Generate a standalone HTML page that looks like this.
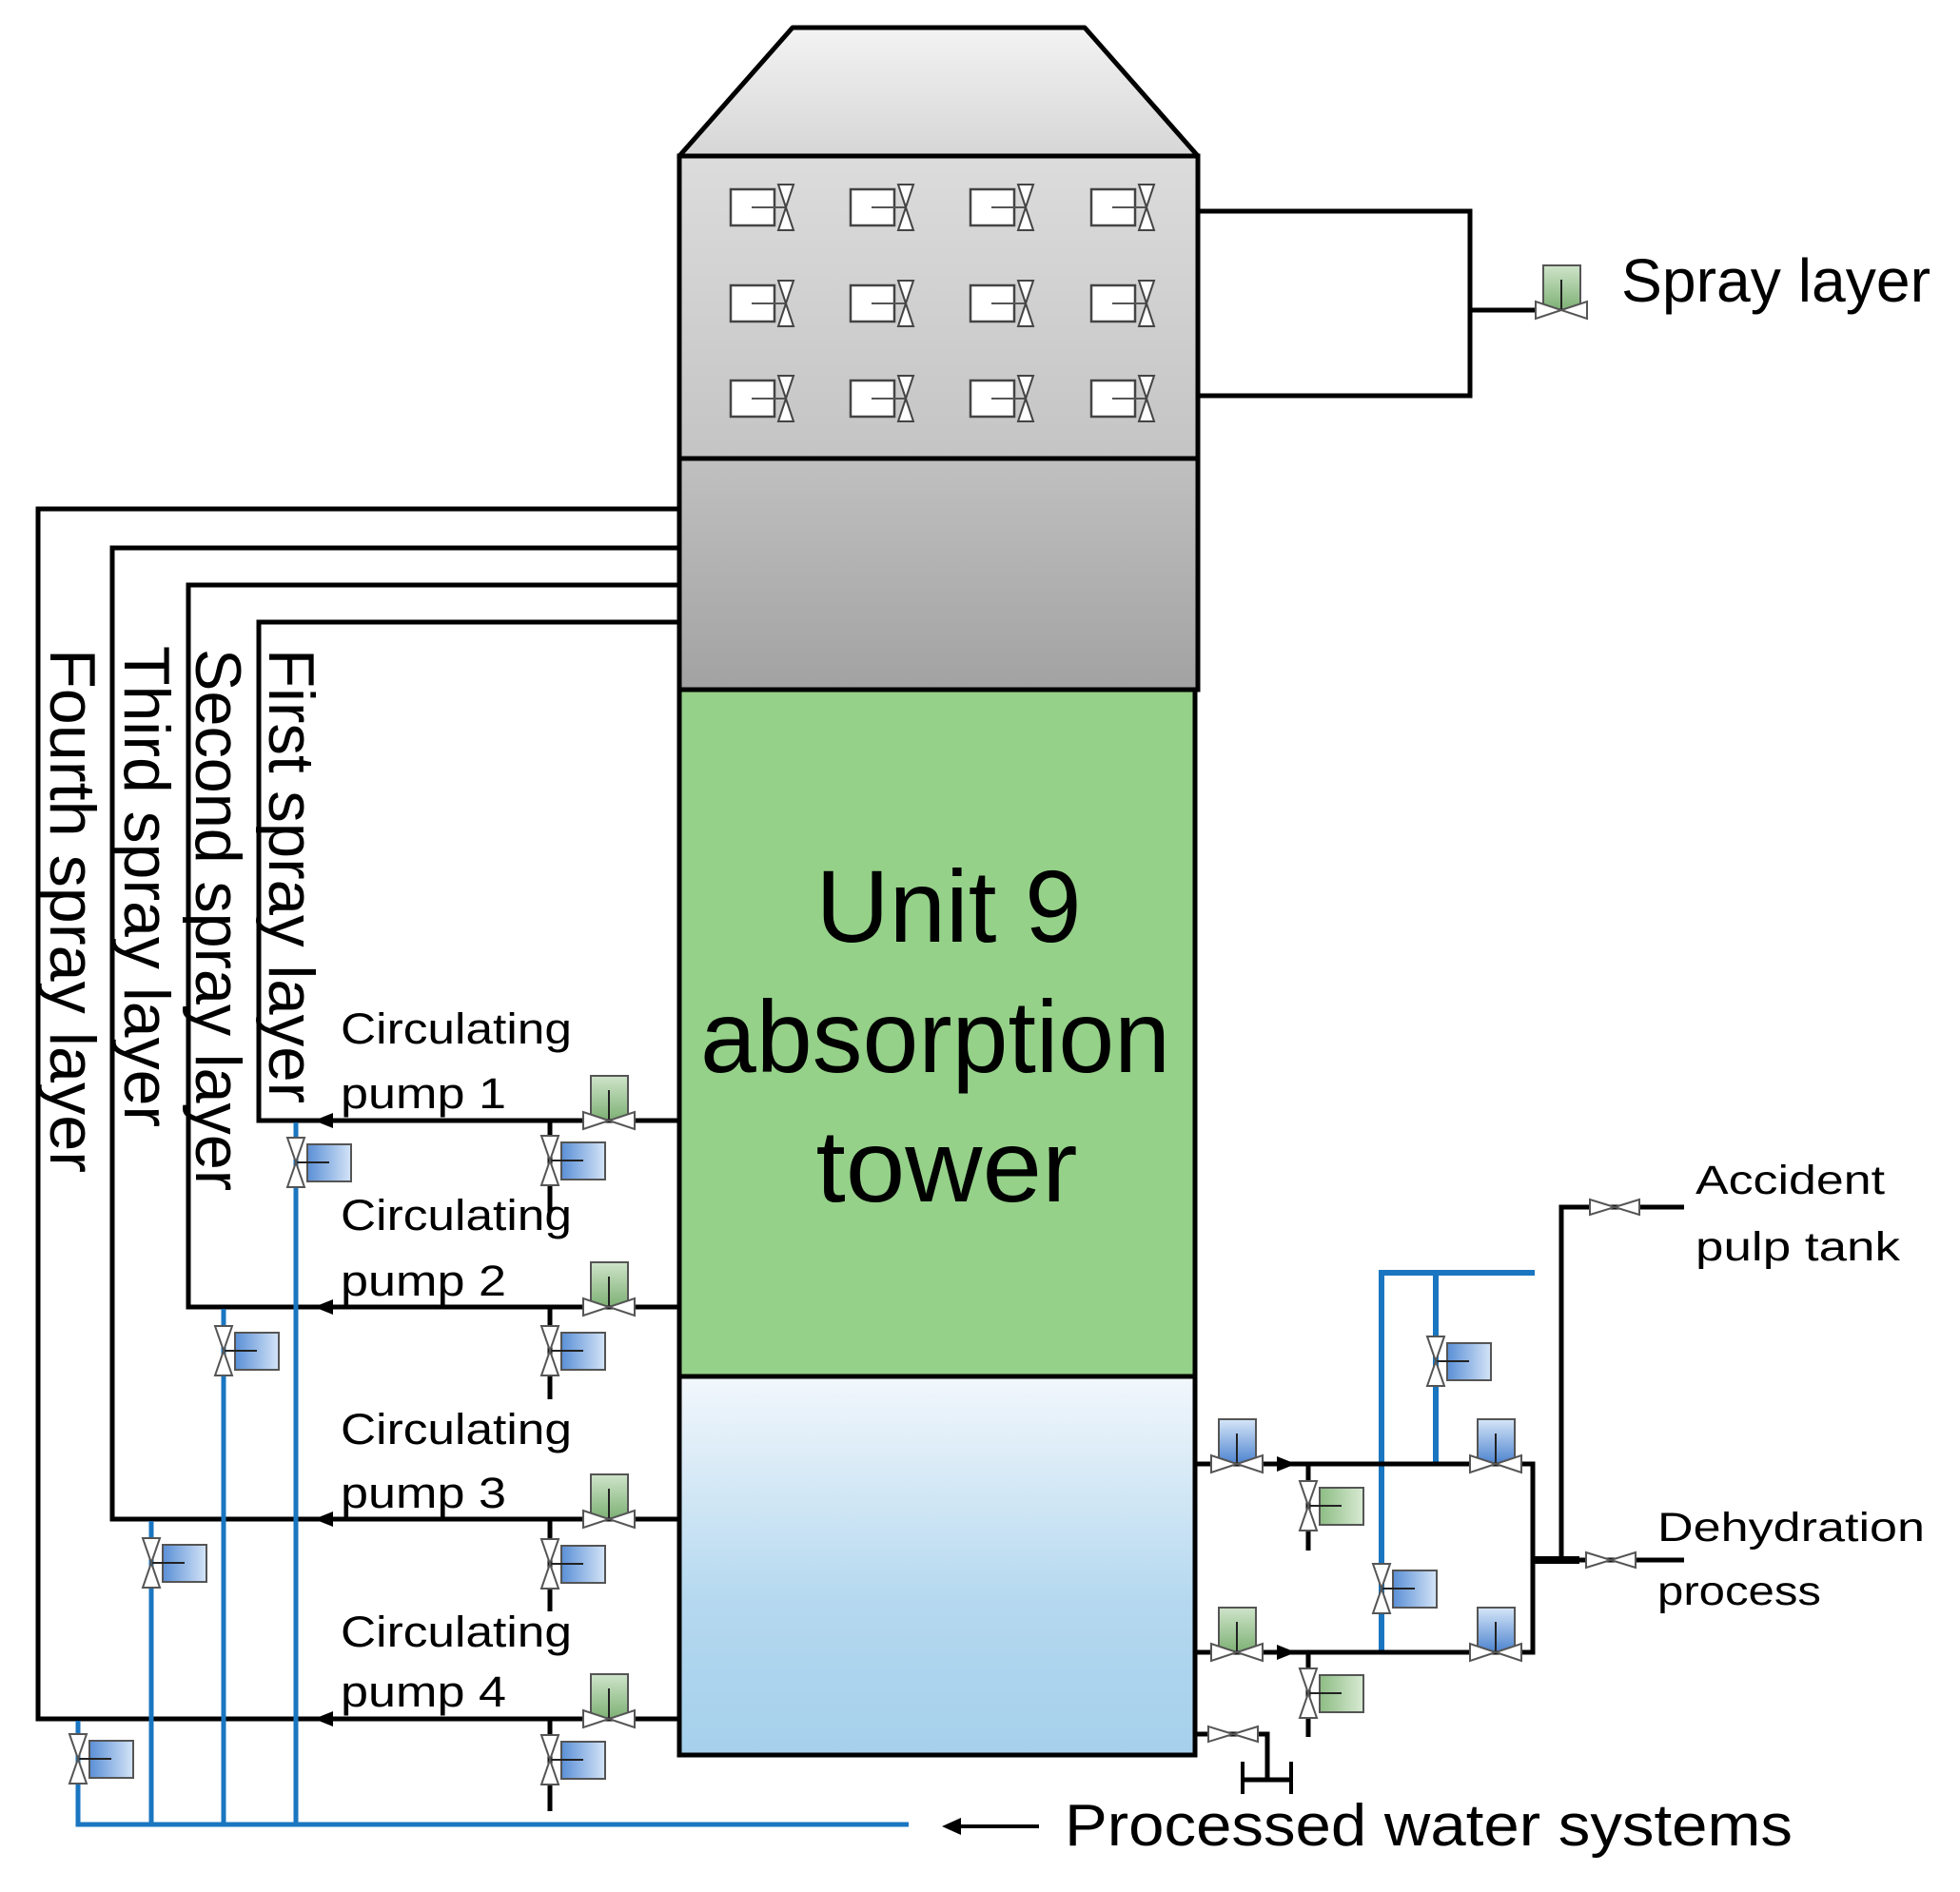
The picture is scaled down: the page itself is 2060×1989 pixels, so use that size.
<!DOCTYPE html>
<html><head><meta charset="utf-8"><style>
html,body{margin:0;padding:0;background:#fff}
svg{display:block}
text{font-family:"Liberation Sans",sans-serif;fill:#000}
</style></head><body>
<svg width="2060" height="1989" viewBox="0 0 2060 1989" xmlns="http://www.w3.org/2000/svg">
<defs>
<linearGradient id="roof" x1="0" y1="0" x2="0" y2="1"><stop offset="0" stop-color="#f3f3f3"/><stop offset="1" stop-color="#d6d6d6"/></linearGradient>
<linearGradient id="sec1" x1="0" y1="0" x2="0" y2="1"><stop offset="0" stop-color="#dcdcdc"/><stop offset="1" stop-color="#c4c4c4"/></linearGradient>
<linearGradient id="sec2" x1="0" y1="0" x2="0" y2="1"><stop offset="0" stop-color="#c0c0c0"/><stop offset="1" stop-color="#a2a2a2"/></linearGradient>
<linearGradient id="water" x1="0" y1="0" x2="0" y2="1"><stop offset="0" stop-color="#f2f7fc"/><stop offset="0.6" stop-color="#b4d8ef"/><stop offset="1" stop-color="#a5d0ec"/></linearGradient>
<linearGradient id="gV" x1="0" y1="0" x2="0" y2="1"><stop offset="0" stop-color="#cfe4ca"/><stop offset="1" stop-color="#7fb276"/></linearGradient>
<linearGradient id="bV" x1="0" y1="0" x2="0" y2="1"><stop offset="0" stop-color="#d6e6f8"/><stop offset="1" stop-color="#4f85d0"/></linearGradient>
<linearGradient id="gH" x1="0" y1="0" x2="1" y2="0"><stop offset="0" stop-color="#8dbd84"/><stop offset="1" stop-color="#d8ead3"/></linearGradient>
<linearGradient id="bH" x1="0" y1="0" x2="1" y2="0"><stop offset="0" stop-color="#5a8fd6"/><stop offset="1" stop-color="#d4e4f7"/></linearGradient>
<g id="hvG"><rect x="-19" y="-47" width="39" height="46" fill="url(#gV)" stroke="#555" stroke-width="2"/><line x1="0" y1="-32" x2="0" y2="0" stroke="#222" stroke-width="2"/><path d="M-27,-9 L-27,9 L0,0 Z M27,-9 L27,9 L0,0 Z" fill="#fff" stroke="#555" stroke-width="2"/></g>
<g id="hvB"><rect x="-19" y="-47" width="39" height="46" fill="url(#bV)" stroke="#555" stroke-width="2"/><line x1="0" y1="-32" x2="0" y2="0" stroke="#222" stroke-width="2"/><path d="M-27,-9 L-27,9 L0,0 Z M27,-9 L27,9 L0,0 Z" fill="#fff" stroke="#555" stroke-width="2"/></g>
<g id="vvB"><rect x="12" y="-19" width="46" height="39" fill="url(#bH)" stroke="#555" stroke-width="2"/><line x1="0" y1="0" x2="35" y2="0" stroke="#222" stroke-width="2"/><path d="M-9,-26 L9,-26 L0,0 Z M-9,26 L9,26 L0,0 Z" fill="#fff" stroke="#555" stroke-width="2"/></g>
<g id="vvG"><rect x="12" y="-19" width="46" height="39" fill="url(#gH)" stroke="#555" stroke-width="2"/><line x1="0" y1="0" x2="35" y2="0" stroke="#222" stroke-width="2"/><path d="M-9,-26 L9,-26 L0,0 Z M-9,26 L9,26 L0,0 Z" fill="#fff" stroke="#555" stroke-width="2"/></g>
<g id="hv0"><path d="M-26,-8 L-26,8 L0,0 Z M26,-8 L26,8 L0,0 Z" fill="#fff" stroke="#555" stroke-width="2"/></g>
<g id="noz"><rect x="0" y="0" width="46" height="38" fill="#fff" stroke="#444" stroke-width="2.5"/><line x1="22" y1="19" x2="58" y2="19" stroke="#555" stroke-width="2"/><path d="M50,-5 L66,-5 L58,19 Z M50,43 L66,43 L58,19 Z" fill="#fff" stroke="#444" stroke-width="2"/></g>
</defs>

<polygon points="714,164 833,29 1140,29 1259,164" fill="url(#roof)" stroke="#000" stroke-width="5" stroke-linejoin="round"/>
<rect x="714" y="164" width="545" height="318" fill="url(#sec1)" stroke="#000" stroke-width="5"/>
<rect x="714" y="482" width="545" height="243" fill="url(#sec2)" stroke="#000" stroke-width="5"/>
<rect x="714" y="725" width="542" height="722" fill="#95d189" stroke="#000" stroke-width="5"/>
<rect x="714" y="1447" width="542" height="398" fill="url(#water)" stroke="#000" stroke-width="5"/>

<use href="#noz" x="768" y="199"/><use href="#noz" x="894" y="199"/><use href="#noz" x="1020" y="199"/><use href="#noz" x="1147" y="199"/>
<use href="#noz" x="768" y="300"/><use href="#noz" x="894" y="300"/><use href="#noz" x="1020" y="300"/><use href="#noz" x="1147" y="300"/>
<use href="#noz" x="768" y="400"/><use href="#noz" x="894" y="400"/><use href="#noz" x="1020" y="400"/><use href="#noz" x="1147" y="400"/>

<text x="997" y="990" font-size="108" text-anchor="middle" textLength="279" lengthAdjust="spacingAndGlyphs">Unit 9</text>
<text x="983" y="1127" font-size="108" text-anchor="middle" textLength="494" lengthAdjust="spacingAndGlyphs">absorption</text>
<text x="995" y="1263" font-size="108" text-anchor="middle" textLength="275" lengthAdjust="spacingAndGlyphs">tower</text>

<g fill="none" stroke="#000" stroke-width="5">
<polyline points="1259,222 1545,222 1545,416 1259,416"/>
<line x1="1545" y1="326" x2="1614" y2="326"/>
</g>
<use href="#hvG" x="1641" y="326"/>
<text x="1704" y="317" font-size="64" textLength="325" lengthAdjust="spacingAndGlyphs">Spray layer</text>

<g fill="none" stroke="#000" stroke-width="5">
<polyline points="714,535 40,535 40,1807 714,1807"/>
<polyline points="714,576 118,576 118,1597 714,1597"/>
<polyline points="714,615 198,615 198,1374 714,1374"/>
<polyline points="714,654 272,654 272,1178 714,1178"/>
<line x1="578" y1="1178" x2="578" y2="1275"/>
<line x1="578" y1="1374" x2="578" y2="1471"/>
<line x1="578" y1="1597" x2="578" y2="1694"/>
<line x1="578" y1="1807" x2="578" y2="1904"/>
</g>
<g fill="#000">
<polygon points="330,1178 350,1170 350,1186"/>
<polygon points="330,1374 350,1366 350,1382"/>
<polygon points="330,1597 350,1589 350,1605"/>
<polygon points="330,1807 350,1799 350,1815"/>
</g>
<g font-size="68">
<text transform="translate(283,682) rotate(90)" textLength="478" lengthAdjust="spacingAndGlyphs">First spray layer</text>
<text transform="translate(206,682) rotate(90)" textLength="570" lengthAdjust="spacingAndGlyphs">Second spray layer</text>
<text transform="translate(131,679) rotate(90)" textLength="506" lengthAdjust="spacingAndGlyphs">Third spray layer</text>
<text transform="translate(53,682) rotate(90)" textLength="551" lengthAdjust="spacingAndGlyphs">Fourth spray layer</text>
</g>
<g font-size="45">
<text x="358" y="1097" textLength="243" lengthAdjust="spacingAndGlyphs">Circulating</text>
<text x="358" y="1165" textLength="174" lengthAdjust="spacingAndGlyphs">pump 1</text>
<text x="358" y="1293" textLength="243" lengthAdjust="spacingAndGlyphs">Circulating</text>
<text x="358" y="1362" textLength="174" lengthAdjust="spacingAndGlyphs">pump 2</text>
<text x="358" y="1518" textLength="243" lengthAdjust="spacingAndGlyphs">Circulating</text>
<text x="358" y="1585" textLength="174" lengthAdjust="spacingAndGlyphs">pump 3</text>
<text x="358" y="1731" textLength="243" lengthAdjust="spacingAndGlyphs">Circulating</text>
<text x="358" y="1794" textLength="174" lengthAdjust="spacingAndGlyphs">pump 4</text>
</g>
<g fill="none" stroke="#1a76c0" stroke-width="5">
<line x1="311" y1="1180" x2="311" y2="1918"/>
<line x1="235" y1="1376" x2="235" y2="1918"/>
<line x1="159" y1="1599" x2="159" y2="1918"/>
<polyline points="82,1809 82,1918 955,1918"/>
</g>
<use href="#hvG" x="640" y="1178"/><use href="#hvG" x="640" y="1374"/><use href="#hvG" x="640" y="1597"/><use href="#hvG" x="640" y="1807"/>
<use href="#vvB" x="578" y="1220"/><use href="#vvB" x="578" y="1420"/><use href="#vvB" x="578" y="1644"/><use href="#vvB" x="578" y="1850"/>
<use href="#vvB" x="311" y="1222"/><use href="#vvB" x="235" y="1420"/><use href="#vvB" x="159" y="1643"/><use href="#vvB" x="82" y="1849"/>

<line x1="1092" y1="1920" x2="1005" y2="1920" stroke="#000" stroke-width="4"/>
<polygon points="990,1920 1010,1911 1010,1929" fill="#000"/>
<text x="1119" y="1940" font-size="62" textLength="765" lengthAdjust="spacingAndGlyphs">Processed water systems</text>

<g fill="none" stroke="#1a76c0" stroke-width="6">
<polyline points="1452,1737 1452,1338 1613,1338"/>
<line x1="1509" y1="1338" x2="1509" y2="1539"/>
</g>
<g fill="none" stroke="#000" stroke-width="5">
<polyline points="1256,1539 1611,1539 1611,1737 1256,1737"/>
<line x1="1375" y1="1539" x2="1375" y2="1630"/>
<line x1="1375" y1="1737" x2="1375" y2="1826"/>
<line x1="1611" y1="1640" x2="1770" y2="1640"/>
<polyline points="1641,1640 1641,1269 1770,1269"/>
<polyline points="1256,1823 1332,1823 1332,1871"/>
<line x1="1306" y1="1871" x2="1357" y2="1871"/>
<line x1="1306" y1="1852" x2="1306" y2="1886" stroke-width="4"/>
<line x1="1357" y1="1852" x2="1357" y2="1886" stroke-width="4"/>
</g>
<line x1="1611" y1="1640" x2="1660" y2="1640" stroke="#000" stroke-width="8"/>
<polygon points="1362,1539 1342,1531 1342,1547" fill="#000"/>
<polygon points="1362,1737 1342,1729 1342,1745" fill="#000"/>
<use href="#hvB" x="1300" y="1539"/><use href="#hvB" x="1572" y="1539"/>
<use href="#hvG" x="1300" y="1737"/><use href="#hvB" x="1572" y="1737"/>
<use href="#vvG" x="1375" y="1583"/><use href="#vvG" x="1375" y="1780"/>
<use href="#vvB" x="1509" y="1431"/><use href="#vvB" x="1452" y="1670"/>
<use href="#hv0" x="1693" y="1640"/><use href="#hv0" x="1697" y="1269"/><use href="#hv0" x="1296" y="1823"/>
<g font-size="43">
<text x="1782" y="1255" textLength="199" lengthAdjust="spacingAndGlyphs">Accident</text>
<text x="1782" y="1325" textLength="215" lengthAdjust="spacingAndGlyphs">pulp tank</text>
<text x="1742" y="1620" textLength="281" lengthAdjust="spacingAndGlyphs">Dehydration</text>
<text x="1742" y="1687" textLength="172" lengthAdjust="spacingAndGlyphs">process</text>
</g>
</svg>
</body></html>
